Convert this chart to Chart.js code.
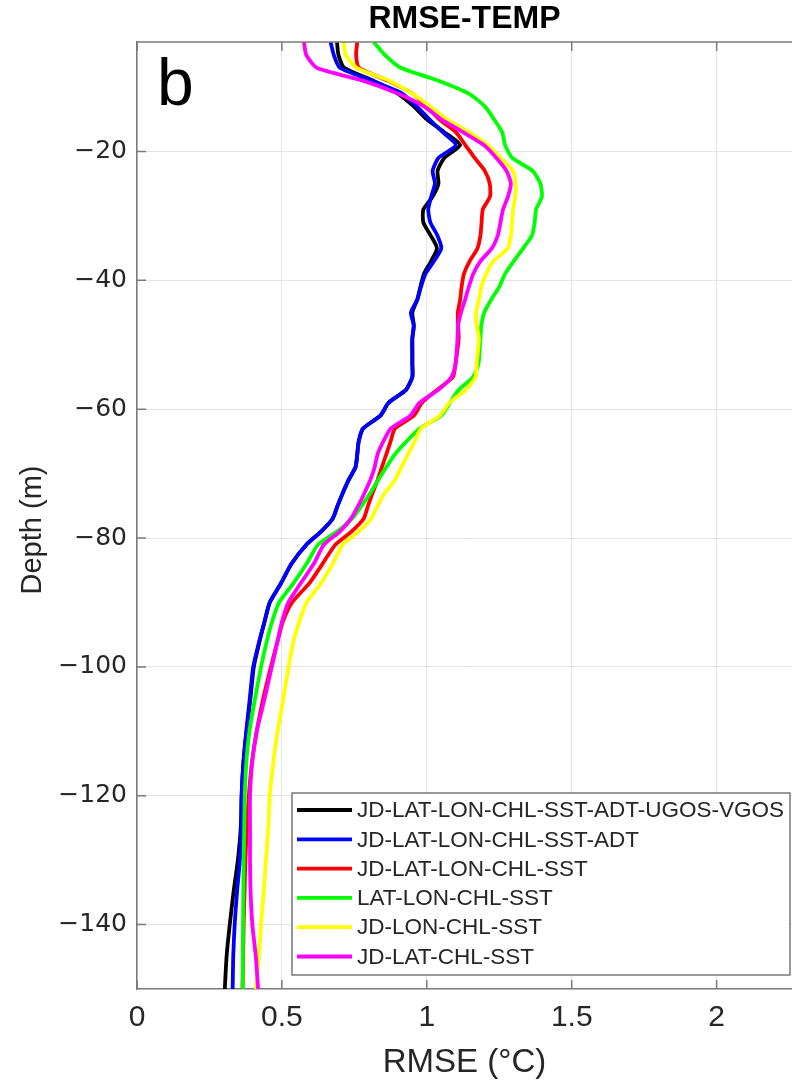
<!DOCTYPE html>
<html><head><meta charset="utf-8">
<script src="https://cdn.jsdelivr.net/npm/chart.js@4.4.1/dist/chart.umd.min.js"></script>
<style>html,body{margin:0;padding:0;background:#fff;}#wrap{width:792px;height:1087px;}</style>
</head><body><div id="wrap"><canvas id="c" width="792" height="1087"></canvas></div>
<script>
// Depth levels (m, positive downward)
const depths = [3,5,7,9,11,13,15,17,19,21,23,25,27,29,31,33,35,37,39,41,43,45,47,49,51,53,55,57,59,61,63,65,67,69,71,73,75,77,79,81,84,87,90,93,96,100,105,110,115,120,125,130,135,140,145,150];

const seriesLabels = [
  'JD-LAT-LON-CHL-SST-ADT-UGOS-VGOS',
  'JD-LAT-LON-CHL-SST-ADT',
  'JD-LAT-LON-CHL-SST',
  'LAT-LON-CHL-SST',
  'JD-LON-CHL-SST',
  'JD-LAT-CHL-SST'
];

const rmseAll = [0.69,0.695,0.715,0.815,0.90,0.955,1.00,1.06,1.115,1.06,1.037,1.04,1.02,0.988,0.988,1.013,1.035,1.015,0.99,0.978,0.967,0.95,0.955,0.95,0.95,0.95,0.95,0.928,0.868,0.84,0.78,0.765,0.76,0.754,0.73,0.71,0.692,0.675,0.635,0.585,0.533,0.497,0.458,0.44,0.423,0.403,0.391,0.378,0.367,0.361,0.358,0.348,0.333,0.32,0.309,0.303];
const rmseADT = [0.668,0.679,0.70,0.81,0.915,0.965,1.009,1.055,1.10,1.04,1.02,1.028,1.015,1.005,1.012,1.036,1.05,1.025,0.995,0.98,0.967,0.945,0.955,0.95,0.95,0.95,0.95,0.928,0.868,0.84,0.78,0.765,0.76,0.754,0.73,0.71,0.692,0.675,0.635,0.585,0.533,0.497,0.458,0.44,0.422,0.401,0.389,0.377,0.367,0.361,0.36,0.355,0.345,0.337,0.332,0.33];
const rmseSST = [0.76,0.756,0.766,0.865,0.95,1.0,1.043,1.10,1.133,1.165,1.20,1.217,1.218,1.193,1.189,1.185,1.175,1.148,1.128,1.12,1.115,1.107,1.108,1.11,1.105,1.099,1.09,1.035,0.983,0.955,0.89,0.875,0.86,0.845,0.83,0.813,0.797,0.782,0.74,0.685,0.64,0.595,0.535,0.503,0.485,0.462,0.435,0.413,0.396,0.386,0.379,0.374,0.371,0.368,0.366,0.364];
const rmseNoJD = [0.817,0.855,0.91,1.04,1.145,1.20,1.232,1.26,1.27,1.295,1.365,1.392,1.397,1.377,1.372,1.363,1.333,1.30,1.27,1.25,1.222,1.198,1.188,1.185,1.182,1.178,1.16,1.11,1.08,1.05,0.975,0.93,0.89,0.86,0.832,0.805,0.775,0.742,0.69,0.625,0.585,0.54,0.49,0.466,0.448,0.428,0.407,0.388,0.377,0.372,0.37,0.368,0.367,0.366,0.365,0.365];
const rmseNoLAT = [0.714,0.72,0.758,0.87,0.95,1.012,1.07,1.145,1.21,1.255,1.297,1.306,1.305,1.298,1.294,1.29,1.28,1.23,1.205,1.188,1.18,1.17,1.172,1.18,1.176,1.172,1.168,1.135,1.078,1.045,0.98,0.958,0.935,0.912,0.89,0.855,0.83,0.808,0.765,0.71,0.675,0.635,0.585,0.56,0.54,0.523,0.505,0.485,0.47,0.458,0.453,0.445,0.437,0.428,0.42,0.41];
const rmseNoLON = [0.576,0.584,0.62,0.78,0.90,0.99,1.05,1.125,1.197,1.24,1.275,1.29,1.28,1.263,1.254,1.245,1.225,1.185,1.16,1.145,1.132,1.118,1.108,1.106,1.103,1.099,1.085,1.04,0.975,0.943,0.875,0.85,0.83,0.82,0.805,0.785,0.763,0.738,0.70,0.645,0.61,0.565,0.522,0.50,0.485,0.465,0.44,0.413,0.397,0.39,0.39,0.39,0.392,0.398,0.41,0.418];

const xTicks = [0, 0.5, 1, 1.5, 2];
const yTicks = [-20, -40, -60, -80, -100, -120, -140];

const seriesValues = [rmseAll, rmseADT, rmseSST, rmseNoJD, rmseNoLAT, rmseNoLON];
const seriesColors = ['#000000','#0000ff','#ff0000','#00ff00','#ffff00','#ff00ff'];

const datasets = seriesValues.map((vals, i) => ({
  label: seriesLabels[i],
  data: vals.map((v, k) => ({x: v, y: -depths[k]})),
  borderColor: seriesColors[i],
  backgroundColor: seriesColors[i],
  borderWidth: 3.8,
  pointRadius: 0,
  showLine: true,
  fill: false,
  tension: 0.2,
  borderJoinStyle: 'round',
  order: seriesValues.length - 1 - i
}));

const extras = {
  id: 'extras',
  afterDraw(chart) {
    const ctx = chart.ctx, a = chart.chartArea;
    const xs = chart.scales.x, ys = chart.scales.y;
    ctx.save();
    // top border
    ctx.strokeStyle = '#7a7a7a'; ctx.lineWidth = 1.5;
    ctx.beginPath(); ctx.moveTo(a.left, a.top); ctx.lineTo(a.right, a.top); ctx.stroke();
    // inner ticks
    const tl = 9;
    ctx.beginPath();
    xTicks.forEach(t => {
      const px = xs.getPixelForValue(t);
      ctx.moveTo(px, a.bottom); ctx.lineTo(px, a.bottom - tl);
      ctx.moveTo(px, a.top); ctx.lineTo(px, a.top + tl);
    });
    yTicks.forEach(t => {
      const py = ys.getPixelForValue(t);
      ctx.moveTo(a.left, py); ctx.lineTo(a.left + tl, py);
    });
    ctx.stroke();
    // y-axis title
    ctx.save();
    ctx.translate(33, 530);
    ctx.rotate(-Math.PI / 2);
    ctx.fillStyle = '#262626';
    ctx.font = '29px "Liberation Sans", Arial, sans-serif';
    ctx.textAlign = 'center'; ctx.textBaseline = 'middle';
    ctx.fillText('Depth (m)', 0, 0);
    ctx.restore();
    // panel letter
    ctx.fillStyle = '#000';
    ctx.font = '66px "Liberation Sans", Arial, sans-serif';
    ctx.textBaseline = 'alphabetic'; ctx.textAlign = 'left';
    ctx.fillText('b', 157, 105);
    // legend
    const bx = 292, by = 793, bw = 498, bh = 182;
    ctx.fillStyle = '#fff'; ctx.fillRect(bx, by, bw, bh);
    ctx.strokeStyle = '#555'; ctx.lineWidth = 1.2;
    ctx.strokeRect(bx, by, bw, bh);
    ctx.font = '22.5px "Liberation Sans", Arial, sans-serif';
    ctx.textBaseline = 'middle';
    chart.data.datasets.forEach((ds, i) => {
      const yy = 810 + i * 29.3;
      ctx.strokeStyle = ds.borderColor; ctx.lineWidth = 3.8;
      ctx.beginPath(); ctx.moveTo(297, yy); ctx.lineTo(352, yy); ctx.stroke();
      ctx.fillStyle = '#262626';
      ctx.fillText(ds.label, 357, yy + 1);
    });
    ctx.restore();
  }
};

new Chart(document.getElementById('c'), {
  type: 'scatter',
  data: { datasets },
  options: {
    responsive: false,
    animation: false,
    layout: { padding: { top: 0, right: 0, bottom: 0, left: 0 } },
    plugins: {
      legend: { display: false },
      tooltip: { enabled: false },
      title: {
        display: true, text: 'RMSE-TEMP', fullSize: false,
        color: '#000',
        font: { family: '"Liberation Sans", Arial, sans-serif', size: 32, weight: 'bold' },
        padding: { top: 0, bottom: 3.6 }
      }
    },
    scales: {
      x: {
        type: 'linear', min: 0, max: 2.26,
        afterFit(s) { s.height = 98; },
        afterBuildTicks(s) { s.ticks = xTicks.map(v => ({ value: v })); },
        ticks: {
          color: '#262626', padding: 11,
          font: { family: '"Liberation Sans", Arial, sans-serif', size: 30 },
          callback: v => String(v)
        },
        grid: { color: '#e4e4e4', lineWidth: 1, drawTicks: false },
        border: { display: true, color: '#7a7a7a', width: 1.5 },
        title: {
          display: true, text: 'RMSE (°C)', color: '#262626',
          font: { family: '"Liberation Sans", Arial, sans-serif', size: 33 },
          padding: { top: 4, bottom: 4 }
        }
      },
      y: {
        type: 'linear', min: -150, max: -3,
        afterFit(s) { s.width = 137; },
        afterBuildTicks(s) { s.ticks = yTicks.map(v => ({ value: v })); },
        ticks: {
          color: '#262626', padding: 10,
          font: { family: '"DejaVu Sans", sans-serif', size: 25 },
          callback: v => (v < 0 ? '\u2212' : '') + Math.abs(v)
        },
        grid: { color: '#e4e4e4', lineWidth: 1, drawTicks: false },
        border: { display: true, color: '#7a7a7a', width: 1.5 },
        title: { display: false }
      }
    }
  },
  plugins: [extras]
});
</script>
</body></html>
